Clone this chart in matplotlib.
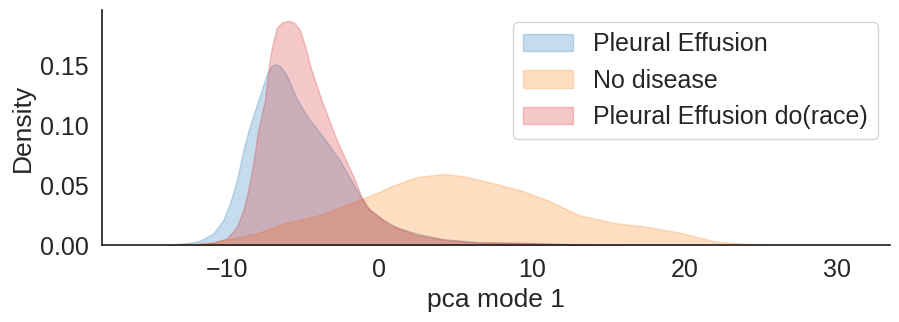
import matplotlib
matplotlib.use('Agg')
import matplotlib.pyplot as plt
import seaborn as sns

# densities (pca mode 1 vs density)
effusion_x = [-14.0, -12.4, -11.77, -10.9, -10.24, -9.8, -9.36, -8.93, -8.6, -8.28, -7.84, -7.4,
              -7.1, -6.85, -6.5, -6.1, -5.43, -4.77, -3.69, -2.6, -1.5, -0.84, 0.25, 1.3, 2.44,
              4.2, 6.4, 9.0, 11.0, 13.0, 16.0]
effusion_y = [0.0, 0.002, 0.0036, 0.0097, 0.021, 0.035, 0.054, 0.079, 0.095, 0.108, 0.125, 0.142,
              0.149, 0.151, 0.149, 0.142, 0.122, 0.108, 0.090, 0.0708, 0.046, 0.032, 0.021,
              0.014, 0.0097, 0.005, 0.0025, 0.002, 0.0015, 0.0005, 0.0]

no_disease_x = [-14.0, -10.9, -10.24, -8.05, -6.3, -4.56, -3.69, -1.93, -1.06, 0.03, 0.69, 2.2,
                2.66, 4.2, 5.5, 7.7, 9.4, 11.0, 13.1, 15.3, 17.5, 19.7, 22.1, 24.3, 27.0, 30.0]
no_disease_y = [0.0, 0.002, 0.004, 0.0097, 0.018, 0.023, 0.026, 0.035, 0.039, 0.0444, 0.0486,
                0.0556, 0.057, 0.0592, 0.0575, 0.0508, 0.045, 0.0375, 0.025, 0.0186, 0.0153,
                0.0103, 0.0028, 0.0008, 0.0002, 0.0]

do_race_x = [-12.5, -10.9, -10.0, -9.36, -8.93, -8.6, -8.28, -7.95, -7.5, -7.25, -7.07, -6.74,
             -6.4, -5.98, -5.6, -5.2, -4.77, -4.56, -3.8, -2.8, -1.7, -1.17, -0.62, 0.69, 2.44,
             4.2, 6.4, 9.0, 11.0, 13.0, 16.0]
do_race_y = [0.0, 0.002, 0.0056, 0.015, 0.029, 0.046, 0.068, 0.096, 0.122, 0.150, 0.164, 0.181,
             0.1855, 0.187, 0.1855, 0.179, 0.161, 0.150, 0.121, 0.0875, 0.057, 0.040, 0.029,
             0.0167, 0.0083, 0.0045, 0.0022, 0.0018, 0.0012, 0.0004, 0.0]

labels = ['Pleural Effusion', 'No disease', 'Pleural Effusion do(race)']
colors = ['#1f77b4', '#ff7f0e', '#d62728']

sns.set_theme(style='white', font_scale=1.5)
plt.rcParams['font.family'] = ['Liberation Sans', 'DejaVu Sans']

fig = plt.figure(figsize=(8.99, 3.22), dpi=100)
ax = fig.add_axes([0.1135, 0.239, 0.8765, 0.73])

series = [(effusion_x, effusion_y), (no_disease_x, no_disease_y), (do_race_x, do_race_y)]
for (xs, ys), label, c in zip(series, labels, colors):
    ax.fill_between(xs, ys, 0, color=c, alpha=0.25, linewidth=1, label=label)

ax.set_xlim(-18.2, 33.5)
ax.set_ylim(0, 0.196)
ax.set_xticks([-10, 0, 10, 20, 30])
ax.set_yticks([0.0, 0.05, 0.10, 0.15])
ax.tick_params(labelsize=18)
ax.set_xlabel('pca mode 1', fontsize=19)
ax.set_ylabel('Density', fontsize=19)
sns.despine(ax=ax)
ax.legend(loc='upper right', fontsize=18)

fig.savefig('out.png', dpi=100)
